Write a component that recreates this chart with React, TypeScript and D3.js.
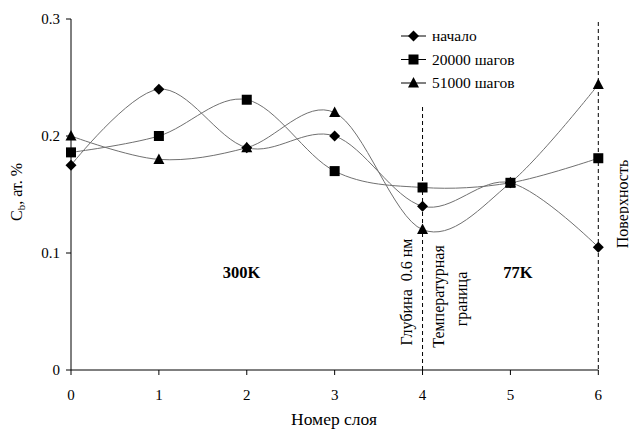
import React from "react";
import * as d3 from "d3";

const layers = [0, 1, 2, 3, 4, 5, 6];
const seriesNames = ["начало", "20000 шагов", "51000 шагов"];
const start = [0.175, 0.24, 0.19, 0.2, 0.14, 0.16, 0.105];
const steps20000 = [0.186, 0.2, 0.231, 0.17, 0.156, 0.16, 0.181];
const steps51000 = [0.2, 0.18, 0.19, 0.22, 0.12, 0.16, 0.244];
const yTicks = [0, 0.1, 0.2, 0.3];
const xTicks = [0, 1, 2, 3, 4, 5, 6];

const W = 629;
const H = 434;
const FONT = "'Liberation Serif', 'Times New Roman', serif";
const tStyle = { fontFamily: FONT };

export default function App() {
  const x = d3.scaleLinear().domain([0, 6]).range([71, 598.3]);
  const y = d3.scaleLinear().domain([0, 0.3]).range([370, 19]);
  const line = d3
    .line<number>()
    .x((_, i) => x(layers[i]))
    .y((d) => y(d))
    .curve(d3.curveCatmullRom.alpha(0));
  const series = [start, steps20000, steps51000];
  const shapes = ["diamond", "square", "triangle"];

  const marker = (shape: string, cx: number, cy: number, key: string) => {
    if (shape === "diamond")
      return <path key={key} d={`M${cx},${cy - 5.5}L${cx + 5.5},${cy}L${cx},${cy + 5.5}L${cx - 5.5},${cy}Z`} fill="#000" />;
    if (shape === "square")
      return <rect key={key} x={cx - 5} y={cy - 5} width={10} height={10} fill="#000" />;
    return <path key={key} d={`M${cx},${cy - 6}L${cx + 5.5},${cy + 4.5}L${cx - 5.5},${cy + 4.5}Z`} fill="#000" />;
  };

  return (
    <svg width={W} height={H} style={{ position: "absolute", left: 0, top: 0, fontFamily: FONT }}>
      <rect width={W} height={H} fill="#fff" />
      {/* dashed verticals */}
      <line x1={x(4)} x2={x(4)} y1={107} y2={370} stroke="#000" strokeDasharray="4,3" strokeWidth={1} />
      <line x1={x(6)} x2={x(6)} y1={22} y2={370} stroke="#000" strokeDasharray="4,3" strokeWidth={1} />
      {/* axes */}
      <line x1={71} x2={71} y1={y(0.3)} y2={370} stroke="#000" />
      <line x1={71} x2={x(6)} y1={370} y2={370} stroke="#000" />
      {yTicks.map((t) => (
        <g key={"y" + t}>
          <line x1={66} x2={71} y1={y(t)} y2={y(t)} stroke="#000" />
          <text x={60} y={y(t) + 5} textAnchor="end" fontSize={15} style={tStyle}>
            {t === 0 ? "0" : t.toFixed(1)}
          </text>
        </g>
      ))}
      {xTicks.map((t) => (
        <g key={"x" + t}>
          <line x1={x(t)} x2={x(t)} y1={370} y2={375} stroke="#000" />
          <text x={x(t)} y={400} textAnchor="middle" fontSize={15} style={tStyle}>
            {t}
          </text>
        </g>
      ))}
      {/* series lines */}
      {series.map((s, i) => (
        <path key={"l" + i} d={line(s) || ""} fill="none" stroke="#707070" strokeWidth={1} />
      ))}
      {series.map((s, i) => s.map((v, j) => marker(shapes[i], x(layers[j]), y(v), `m${i}-${j}`)))}
      {/* legend */}
      {seriesNames.map((n, i) => (
        <g key={"lg" + i}>
          <line x1={401} x2={426} y1={36 + i * 23.5} y2={36 + i * 23.5} stroke="#000" />
          {marker(shapes[i], 413.5, 36 + i * 23.5, "lm" + i)}
          <text x={432} y={41 + i * 23.5} fontSize={15.5} style={tStyle}>
            {n}
          </text>
        </g>
      ))}
      {/* axis titles */}
      <text x={334} y={425} textAnchor="middle" fontSize={17.5} style={tStyle}>Номер слоя</text>
      <text transform="translate(22,192) rotate(-90)" textAnchor="middle" fontSize={16} style={tStyle}>
        C<tspan fontSize={11} dy={3}>b</tspan><tspan dy={-3}>, ат. %</tspan>
      </text>
      {/* annotations */}
      <text x={241.5} y={278} textAnchor="middle" fontSize={16.5} fontWeight="bold" style={tStyle}>300K</text>
      <text x={518} y={278} textAnchor="middle" fontSize={16.5} fontWeight="bold" style={tStyle}>77K</text>
      <text transform="translate(412,292) rotate(-90)" textAnchor="middle" fontSize={16} style={{ fontFamily: FONT, whiteSpace: "pre" }}>Глубина  0.6 нм</text>
      <text transform="translate(443.5,296.5) rotate(-90)" textAnchor="middle" fontSize={16} style={tStyle}>Температурная</text>
      <text transform="translate(467,299) rotate(-90)" textAnchor="middle" fontSize={16} style={tStyle}>граница</text>
      <text transform="translate(627.5,204) rotate(-90)" textAnchor="middle" fontSize={16} style={tStyle}>Поверхность</text>
    </svg>
  );
}
